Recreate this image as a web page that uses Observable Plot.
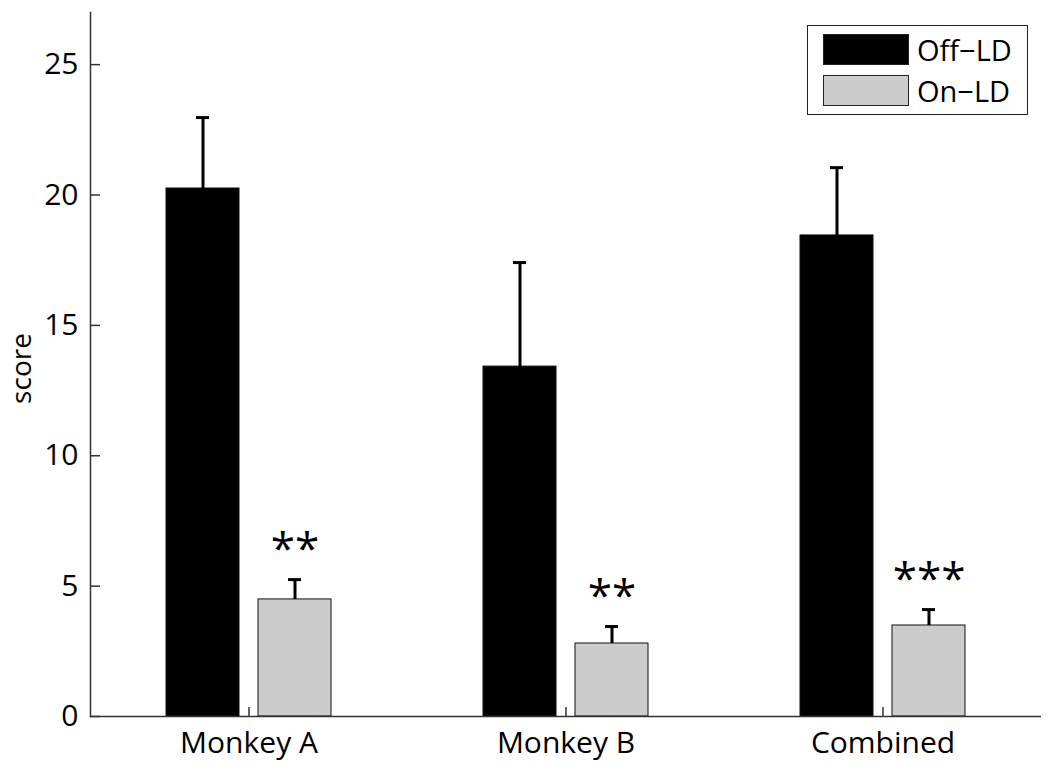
<!DOCTYPE html>
<html>
<head>
<meta charset="utf-8">
<script src="https://cdn.jsdelivr.net/npm/d3@7"></script>
<script src="https://cdn.jsdelivr.net/npm/@observablehq/plot@0.6"></script>
<style>
  html, body { margin: 0; padding: 0; background: #fff; }
  #wrap { position: relative; width: 1050px; height: 769px; font-family: "Open Sans", sans-serif; }
  #legend { position: absolute; left: 807px; top: 25px; width: 219px; height: 88px; border: 1.5px solid #222; background: #fff; }
  .item { position: absolute; left: 15px; display: flex; align-items: center; }
  .sw { width: 84px; height: 29px; border: 1px solid #222; }
  .lab { margin-left: 8px; font-size: 29px; line-height: 29px; color: #000; }
</style>
</head>
<body>
<div id="wrap"></div>
<script>
const groups = ["Monkey A", "Monkey B", "Combined"];
const series = ["Off\u2212LD", "On\u2212LD"];
const offMeans = [20.25, 13.42, 18.45];
const offErrs = [2.72, 3.99, 2.60];
const onMeans = [4.49, 2.80, 3.49];
const onErrs = [0.76, 0.65, 0.61];
const stars = ["**", "**", "***"];
const yTicks = [0, 5, 10, 15, 20, 25];
const yLabel = "score";
const colors = ["#000000", "#cccccc"];

const rows = [];
groups.forEach((g, i) => {
  rows.push({group: g, series: series[0], value: offMeans[i], hi: offMeans[i] + offErrs[i], star: ""});
  rows.push({group: g, series: series[1], value: onMeans[i], hi: onMeans[i] + onErrs[i], star: stars[i]});
});

const chart = Plot.plot({
  width: 1050,
  height: 769,
  marginLeft: 89,
  marginRight: 9,
  marginTop: 12,
  marginBottom: 53,
  style: {fontFamily: "Open Sans", fontSize: "30px", color: "#000", background: "#fff"},
  fx: {domain: groups, padding: 0, label: null},
  x: {domain: series, paddingInner: 0.2065, paddingOuter: 0.826, axis: null},
  y: {domain: [0, 27]},
  color: {domain: series, range: colors},
  marks: [
    Plot.barY(rows, {fx: "group", x: "series", y: "value", fill: "series", stroke: "#111", strokeWidth: 1}),
    Plot.ruleX(rows, {fx: "group", x: "series", y1: "value", y2: "hi", stroke: "#000", strokeWidth: 3}),
    Plot.tickY(rows, {fx: "group", x: "series", y: "hi", stroke: "#000", strokeWidth: 3, insetLeft: 30, insetRight: 30}),
    Plot.text(rows.filter(d => d.star), {fx: "group", x: "series", y: "hi", text: "star", dy: -30, fontSize: 44, fill: "#000"}),
    Plot.ruleY([0], {stroke: "#333", strokeWidth: 1.5}),
    Plot.frame({anchor: "left", facetAnchor: "left", stroke: "#333", strokeWidth: 1.5}),
    Plot.axisY({ticks: yTicks, tickSize: -10, tickPadding: 22, stroke: "#333", strokeWidth: 1.5, label: null, fontSize: 30}),
    Plot.text([yLabel], {text: d => d, frameAnchor: "left", facetAnchor: "left", textAnchor: "middle", lineAnchor: "middle", rotate: -90, dx: -68, dy: 4, fontSize: 28, fill: "#000"}),
    Plot.axisFx({anchor: "bottom", tickSize: -9, tickPadding: 24, stroke: "#333", strokeWidth: 1.5, label: null, fontSize: 30})
  ]
});
const wrap = document.getElementById("wrap");
wrap.appendChild(chart);

const legend = document.createElement("div");
legend.id = "legend";
series.forEach((s, i) => {
  const item = document.createElement("div");
  item.className = "item";
  item.style.top = (i === 0 ? 8 : 49) + "px";
  const sw = document.createElement("div");
  sw.className = "sw";
  sw.style.background = colors[i];
  const lab = document.createElement("span");
  lab.className = "lab";
  lab.textContent = s;
  item.appendChild(sw);
  item.appendChild(lab);
  legend.appendChild(item);
});
wrap.appendChild(legend);
</script>
</body>
</html>
